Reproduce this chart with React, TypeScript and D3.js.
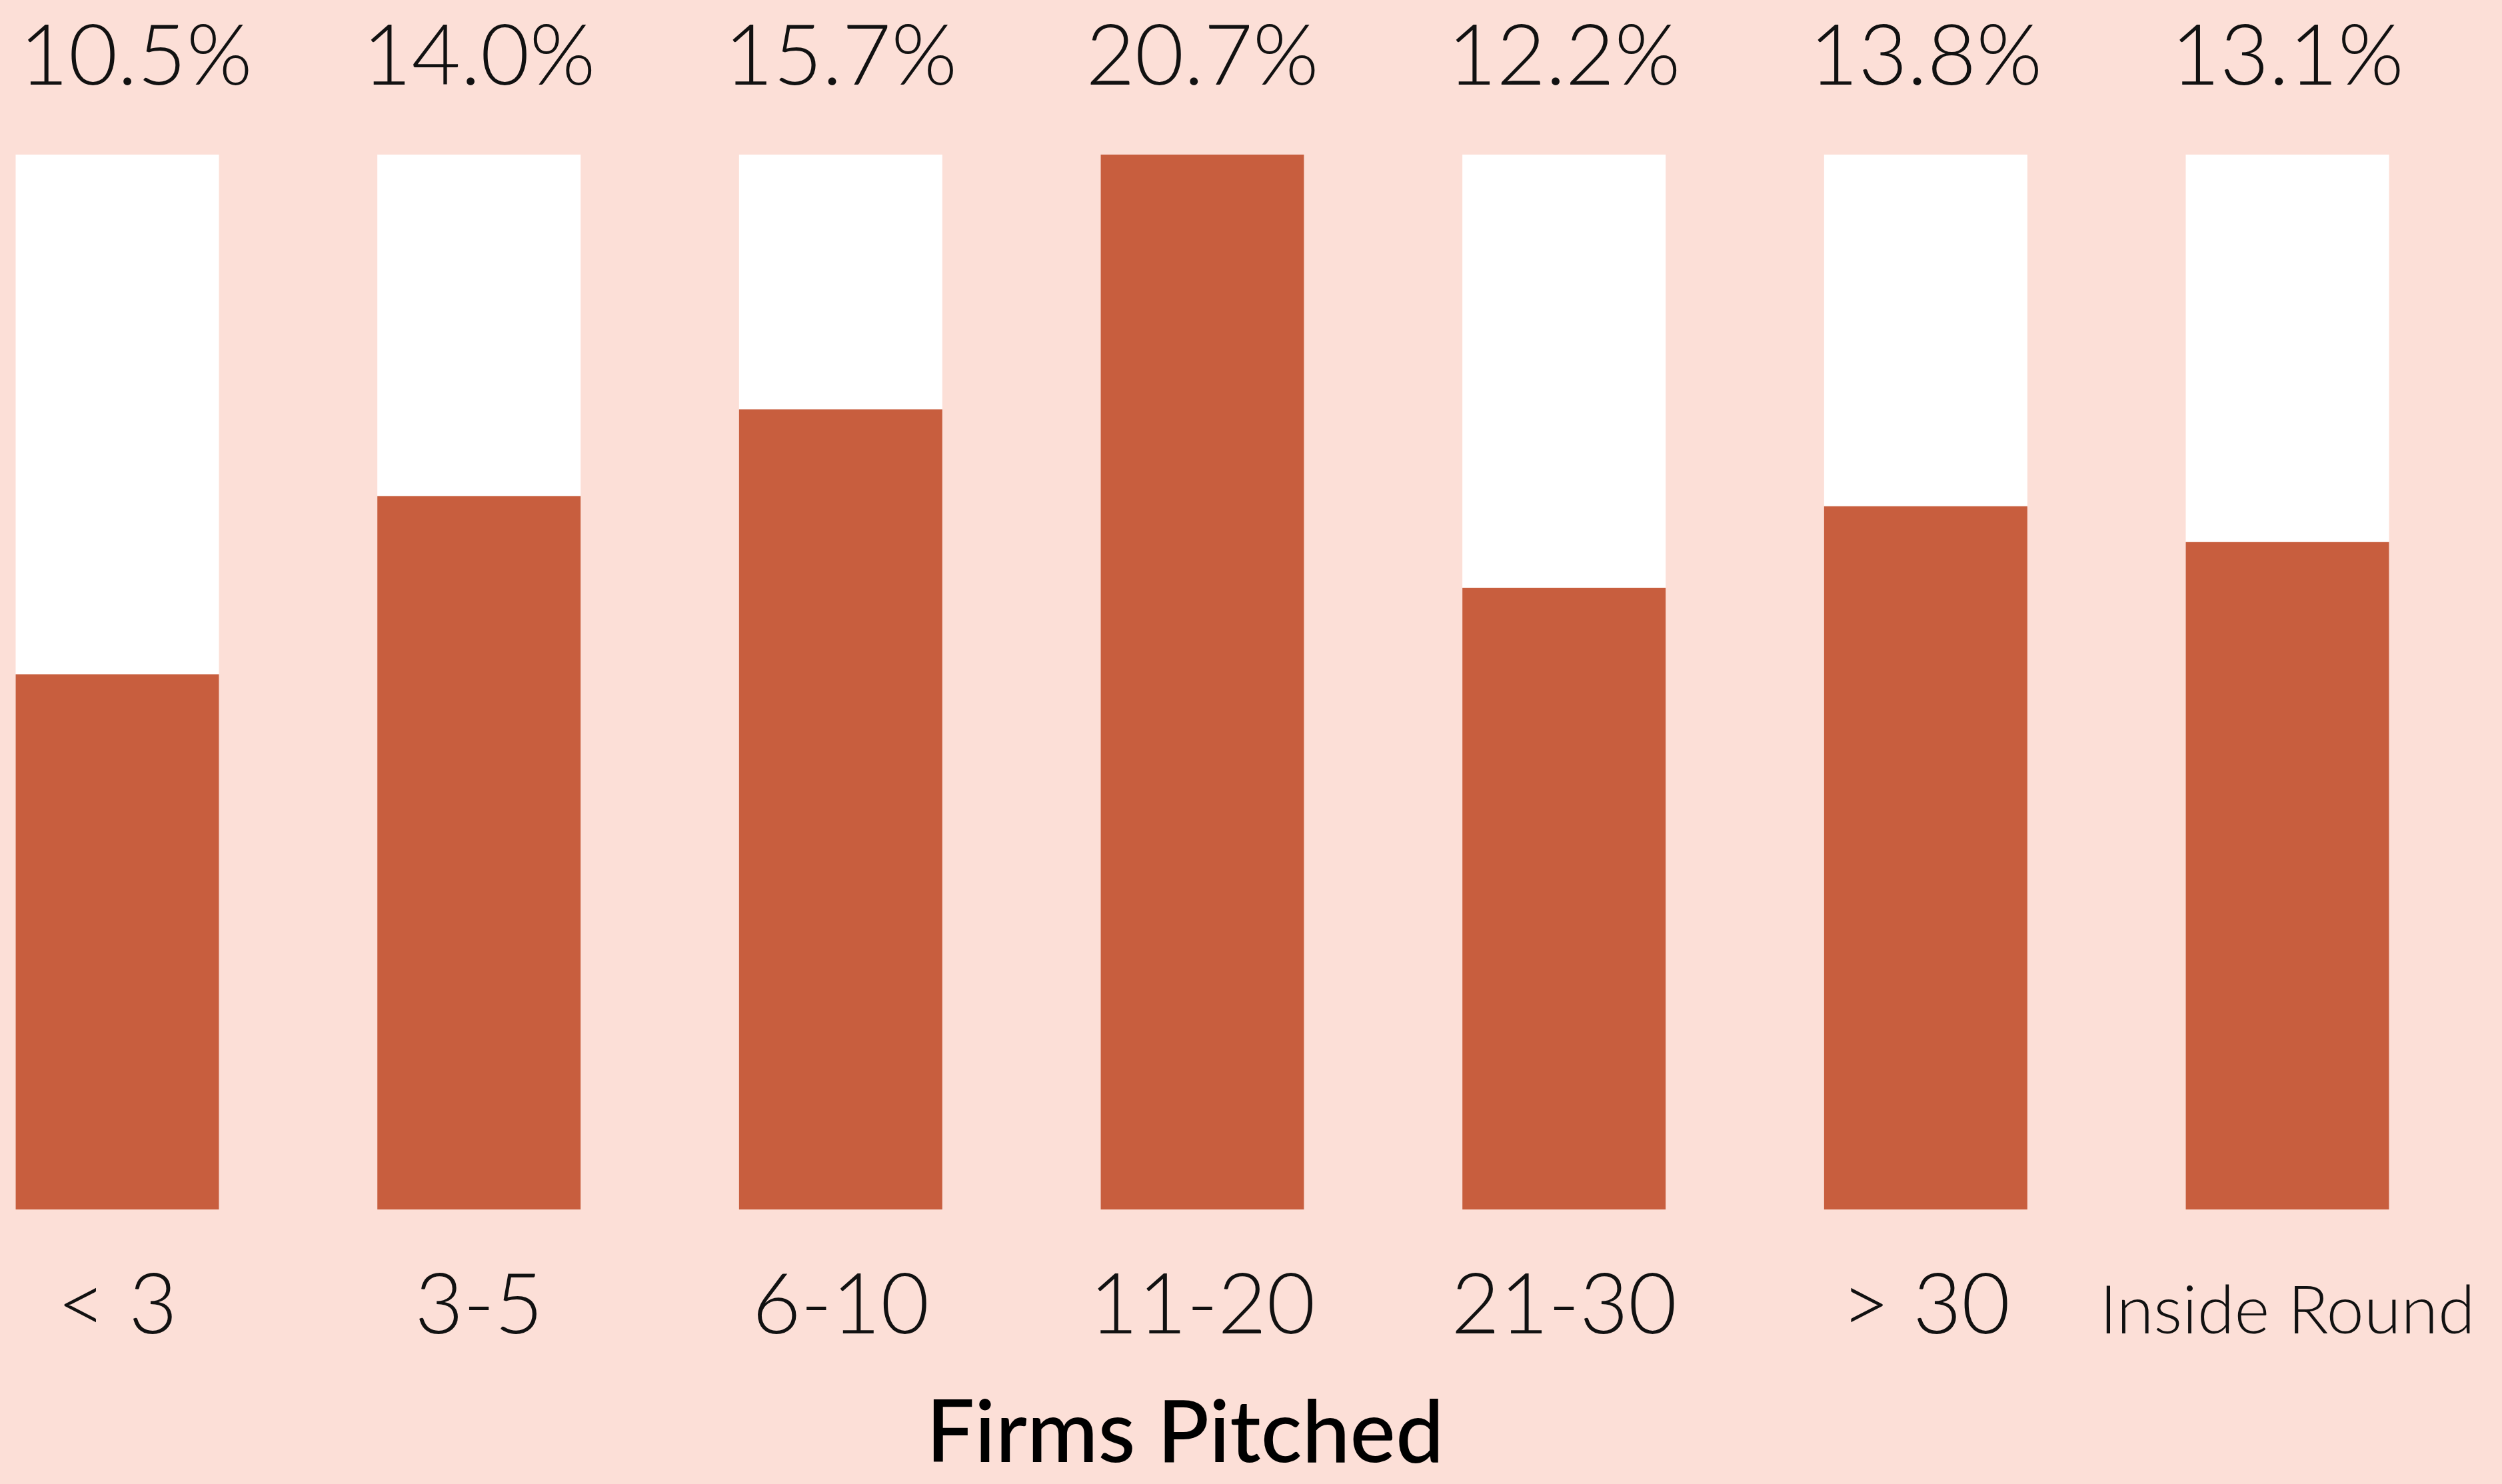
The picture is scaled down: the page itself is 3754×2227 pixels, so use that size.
import React, { useEffect, useRef } from "react";
import * as d3 from "d3";

const categories = ["< 3", "3-5", "6-10", "11-20", "21-30", "> 30", "Inside Round"];
const values = [10.5, 14.0, 15.7, 20.7, 12.2, 13.8, 13.1];
const axisTitle = "Firms Pitched";

const W = 3754;
const H = 2227;

export default function App() {
  const ref = useRef<SVGSVGElement | null>(null);

  useEffect(() => {
    const svg = d3.select(ref.current);
    svg.selectAll("*").remove();

    const barW = 305;
    const x = d3.scalePoint<string>().domain(categories).range([176, 3432]);
    const top = 232;
    const bottom = 1815;
    const y = d3.scaleLinear().domain([0, d3.max(values) as number]).range([bottom, top]);

    svg.append("rect").attr("width", W).attr("height", H).attr("fill", "#FCDFD7");

    const g = svg.append("g");
    g.selectAll("rect.bg")
      .data(categories)
      .join("rect")
      .attr("class", "bg")
      .attr("x", (d) => (x(d) as number) - barW / 2)
      .attr("y", top)
      .attr("width", barW)
      .attr("height", bottom - top)
      .attr("fill", "#FFFFFF");

    g.selectAll("rect.val")
      .data(values)
      .join("rect")
      .attr("class", "val")
      .attr("x", (_d, i) => (x(categories[i]) as number) - barW / 2)
      .attr("y", (d) => y(d))
      .attr("width", barW)
      .attr("height", (d) => bottom - y(d))
      .attr("fill", "#C85E3E");

    const labels = g
      .selectAll("text.val")
      .data(values)
      .join("text")
      .attr("class", "val")
      .attr("y", 127)
      .attr("text-anchor", "middle")
      .attr("font-family", "Lato, 'Open Sans', sans-serif")
      .attr("font-weight", 300)
      .attr("font-size", 127)
      .attr("fill", "#111")
      .text((d) => d.toFixed(1) + "%");
    labels.each(function (_d, i) {
      const el = this as SVGTextElement;
      const w = el.getComputedTextLength();
      const cx = Math.max(x(categories[i]) as number, 29 + w / 2);
      d3.select(el).attr("x", cx);
    });

    g.selectAll("text.cat")
      .data(categories)
      .join("text")
      .attr("class", "cat")
      .attr("x", (d) => x(d) as number)
      .attr("y", 2001)
      .attr("text-anchor", "middle")
      .attr("font-family", "Lato, 'Open Sans', sans-serif")
      .attr("font-weight", 300)
      .attr("font-size", (d) => (d.length > 6 ? 101 : 126))
      .attr("fill", "#111")
      .text((d) => d);

    svg
      .append("text")
      .attr("x", 1778)
      .attr("y", 2194)
      .attr("text-anchor", "middle")
      .attr("font-family", "Lato, 'Open Sans', sans-serif")
      .attr("font-weight", 500)
      .attr("font-size", 129)
      .attr("fill", "#000")
      .text(axisTitle);
  }, []);

  return (
    <svg
      ref={ref}
      width={W}
      height={H}
      style={{ position: "absolute", left: 0, top: 0, display: "block" }}
    />
  );
}
